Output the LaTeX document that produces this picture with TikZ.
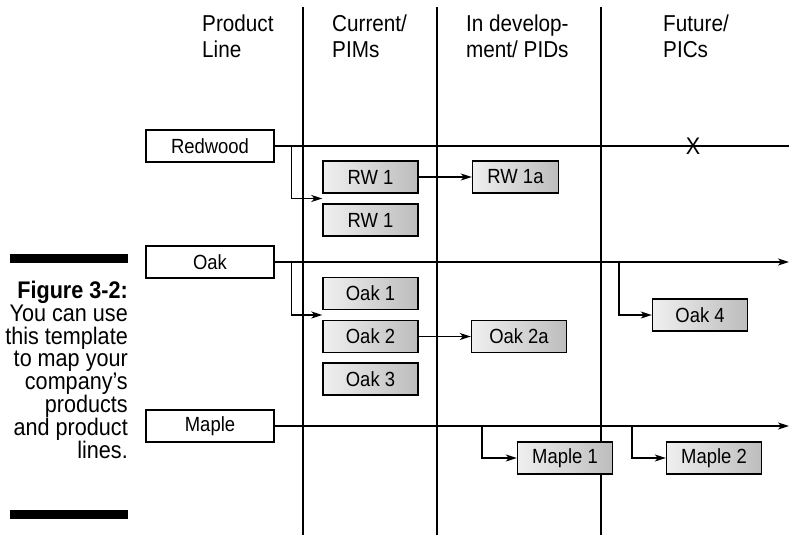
\documentclass[tikz,border=0pt]{standalone}
\usepackage{fontspec}
\setmainfont{Liberation Sans}[FakeStretch=0.9]
\definecolor{BoxLight}{gray}{0.94}
\definecolor{BoxDark}{gray}{0.74}
\usetikzlibrary{arrows.meta,positioning,calc}

\begin{document}
\begin{tikzpicture}[
        x=1pt, y=-1pt,
        >={Stealth[length=11pt,width=7pt,inset=3pt]},
        line/.style={line width=1.3pt},
        head/.style={anchor=north west, inner sep=0pt, align=left, font=\fontsize{23}{26}\selectfont},
        linebox/.style={draw, line width=1.2pt, fill=white, minimum width=128pt, minimum height=32pt,
                        inner sep=0pt, font=\fontsize{20.5}{22}\selectfont},
        prodbox/.style={draw, line width=1.4pt, left color=BoxLight, right color=BoxDark, minimum width=95pt,
                        minimum height=32pt, inner sep=0pt, font=\fontsize{20.5}{22}\selectfont}
    ]
        \useasboundingbox (0,0) rectangle (789,535);
        \foreach \x in {303,437,601}
            \draw[line] (\x,7) -- (\x,535);

        \node[head] (hline) at (202,15) {Product\\Line};
        \node[head] (hcur) at (332,15) {Current/\\PIMs};
        \node[head] (hdev) at (466,15) {In develop-\\ment/ PIDs};
        \node[head] (hfut) at (663,15) {Future/\\PICs};

        \fill (10,254) rectangle (128,263);
        \fill (10,510) rectangle (128,519);
        \node[anchor=north east, align=right, inner sep=0pt, font=\fontsize{24}{22.8}\selectfont] (caption) at (128,281)
            {\textbf{Figure 3-2:}\\You can use\\this template\\to map your\\company’s\\products\\and product\\lines.};

        \node[linebox] (redwood) at (210,146) {Redwood};
        \node[linebox] (oak) at (210,262) {Oak};
        \node[linebox] (maple) at (210,426) {Maple};

        \node[prodbox] (rw1) at (370.5,177) {RW 1};
        \node[prodbox] (rw1b) at (370.5,220) {RW 1};
        \node[prodbox, minimum width=86pt] (rw1a) at (515.5,177) {RW 1a};
        \node[prodbox] (oak1) at (370.5,293.5) {Oak 1};
        \node[prodbox] (oak2) at (370.5,336.5) {Oak 2};
        \node[prodbox] (oak3) at (370.5,379) {Oak 3};
        \node[prodbox] (oak2a) at (519,336.5) {Oak 2a};
        \node[prodbox] (oak4) at (700,315) {Oak 4};
        \node[prodbox] (maple1) at (565,458) {Maple 1};
        \node[prodbox] (maple2) at (714,458) {Maple 2};

        \coordinate (rwend) at (789,146);
        \coordinate (oakend) at (789,262);
        \coordinate (mapleend) at (789,426);
        \coordinate (rwgap) at ($(rw1.south west)!0.5!(rw1b.north west)$);
        \coordinate (oakgap) at ($(oak1.south west)!0.5!(oak2.north west)$);
        \coordinate (oaksplit) at (619,262);
        \coordinate (maplesplit) at (482,426);
        \coordinate (maplesplitb) at (632,426);

        \draw[line] (redwood.east) -- (rwend);
        \draw[line, ->] (oak.east) -- (oakend);
        \draw[line, ->] (maple.east) -- (mapleend);
        \node[font=\fontsize{24}{24}\selectfont, inner sep=0pt] (cross) at (693,146) {X};

        \draw[line, ->] ([xshift=17pt]redwood.east) |- (rwgap);
        \draw[line, ->] ([xshift=17pt]oak.east) |- (oakgap);
        \draw[line, ->] (oaksplit) |- (oak4.west);
        \draw[line, ->] (maplesplit) |- (maple1.west);
        \draw[line, ->] (maplesplitb) |- (maple2.west);
        \draw[line, ->] (rw1) -- (rw1a);
        \draw[line, ->] (oak2) -- (oak2a);
    \end{tikzpicture}
\end{document}
